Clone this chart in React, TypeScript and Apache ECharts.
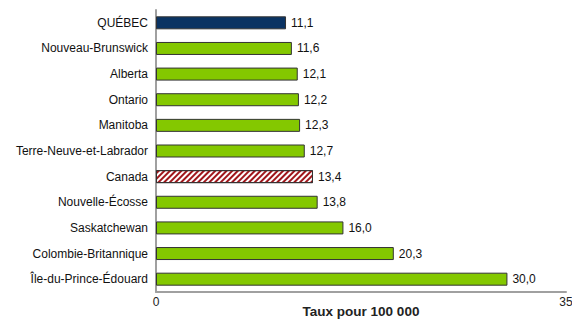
import React, { useEffect, useRef } from "react";
import * as echarts from "echarts";

const categories = [
  "QUÉBEC",
  "Nouveau-Brunswick",
  "Alberta",
  "Ontario",
  "Manitoba",
  "Terre-Neuve-et-Labrador",
  "Canada",
  "Nouvelle-Écosse",
  "Saskatchewan",
  "Colombie-Britannique",
  "Île-du-Prince-Édouard",
];
const values = [11.1, 11.6, 12.1, 12.2, 12.3, 12.7, 13.4, 13.8, 16.0, 20.3, 30.0];
const axisTitle = "Taux pour 100 000";

const FONT = "Liberation Sans, Arial, sans-serif";

export default function App() {
  const ref = useRef<HTMLDivElement>(null);
  useEffect(() => {
    if (!ref.current) return;
    const chart = echarts.init(ref.current, null, { renderer: "svg" });
    const data = values.map((v, i) => {
      const name = categories[i];
      if (name === "QUÉBEC") {
        return { value: v, itemStyle: { color: "#0a3363" } };
      }
      if (name === "Canada") {
        return {
          value: v,
          itemStyle: {
            color: "#ffffff",
            decal: {
              symbol: "rect",
              color: "#a0161b",
              dashArrayX: [1, 0],
              dashArrayY: [2, 1.6],
              rotation: -Math.PI / 4,
              symbolSize: 1,
            },
          },
        };
      }
      return { value: v, itemStyle: { color: "#84c800" } };
    });
    chart.setOption({
      animation: false,
      grid: {
        left: 156,
        right: 6,
        top: 10,
        bottom: 30,
        containLabel: false,
        outerBoundsMode: "none",
      },
      xAxis: {
        type: "value",
        min: 0,
        max: 35,
        interval: 35,
        splitLine: { show: false },
        axisTick: { show: false },
        axisLine: { show: true, lineStyle: { color: "#a0a0a0", width: 2 } },
        axisLabel: {
          fontFamily: FONT,
          fontSize: 12,
          color: "#222",
          margin: 4,
        },
        name: axisTitle,
        nameLocation: "middle",
        nameGap: 12,
        nameMoveOverlap: false,
        nameTextStyle: {
          fontFamily: FONT,
          fontSize: 13.5,
          fontWeight: "bold",
          color: "#222",
          verticalAlign: "top",
        },
      },
      yAxis: {
        type: "category",
        data: categories,
        inverse: true,
        axisTick: { show: false },
        axisLine: { show: true, lineStyle: { color: "#a0a0a0", width: 2 } },
        axisLabel: {
          fontFamily: FONT,
          fontSize: 12,
          color: "#111",
          margin: 8,
        },
      },
      series: [
        {
          type: "bar",
          data,
          barWidth: 13,
          itemStyle: { borderColor: "#333", borderWidth: 1 },
          label: {
            show: true,
            position: "right",
            distance: 5,
            fontFamily: FONT,
            fontSize: 12,
            color: "#111",
            formatter: (p: any) => p.value.toFixed(1).replace(".", ","),
          },
        },
      ],
    });
    return () => chart.dispose();
  }, []);
  return <div ref={ref} style={{ width: 572, height: 322, position: "absolute", left: 0, top: 0 }} />;
}
